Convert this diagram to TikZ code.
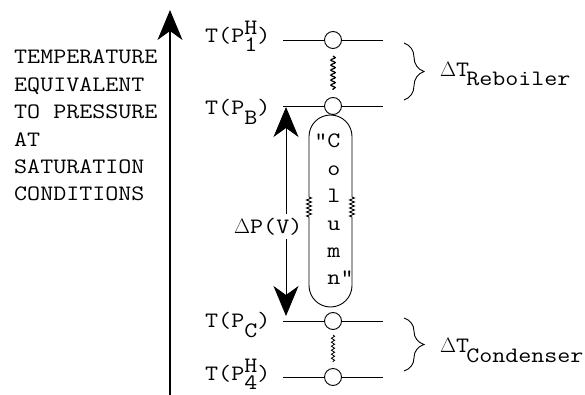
\documentclass[tikz,border=0pt]{standalone}
\usepackage{fontspec}
\setmainfont{Latin Modern Mono}[FakeStretch=1.15]
\usetikzlibrary{arrows.meta,decorations.pathmorphing,decorations.pathreplacing}

% stacked super/subscript and lowered index
\newcommand{\hiLo}[2]{\rlap{\raisebox{8pt}{#1}}\raisebox{-9pt}{#2}}
\newcommand{\lowIdx}[1]{\raisebox{-10pt}{#1}}

\begin{document}
\begin{tikzpicture}[
    x=1pt, y=-1pt,
    >={Stealth[length=30pt,width=25pt,inset=9pt]},
    txt/.style={inner sep=0pt, font=\fontsize{22}{27.4}\selectfont},
    lvl/.style={line width=0.9pt},
    ring/.style={draw, circle, line width=0.9pt, minimum size=17pt, inner sep=0pt, fill=white},
    wave/.style={decorate, decoration={snake, amplitude=2.2pt, segment length=5pt}, line width=1.2pt},
    coil/.style={decorate, decoration={zigzag, amplitude=2.5pt, segment length=4pt}},
    curly/.style={decorate, decoration={brace, amplitude=20pt}, line width=0.9pt}
]
\useasboundingbox (0,0) rectangle (585,395);

% Axis and its caption
\coordinate (axb) at (170,395);
\coordinate (axt) at (170,10);
\draw[->, line width=1.5pt] (axb) -- (axt);
\node[txt, align=left, anchor=north west] (ylab) at (14,50)
  {TEMPERATURE\\EQUIVALENT\\TO PRESSURE\\AT\\SATURATION\\CONDITIONS};

% Pressure levels
\node[ring] (h1) at (333,40) {};
\node[ring] (pb) at (333,106) {};
\node[ring] (pc) at (333,321) {};
\node[ring] (h4) at (333,377) {};

\coordinate (h1l) at (283,40);  \coordinate (h1r) at (383,40);
\coordinate (pbl) at (283,106); \coordinate (pbr) at (383,106);
\coordinate (pcl) at (283,321); \coordinate (pcr) at (383,321);
\coordinate (h4l) at (283,377); \coordinate (h4r) at (383,377);

\draw[lvl] (h1l) -- (h1) -- (h1r);
\draw[lvl] (pbl) -- (pb) -- (pbr);
\draw[lvl] (pcl) -- (pc) -- (pcr);
\draw[lvl] (h4l) -- (h4) -- (h4r);

\node[txt, anchor=base west] (th1) at (205,43) {T(P\hiLo{H}{1})};
\node[txt, anchor=base west] (tpb) at (205,115) {T(P\lowIdx{B})};
\node[txt, anchor=base west] (tpc) at (205,327) {T(P\lowIdx{C})};
\node[txt, anchor=base west] (th4) at (205,380) {T(P\hiLo{H}{4})};

% Wavy links
\coordinate (wa) at (333,56);  \coordinate (wb) at (333,90);
\coordinate (wc) at (333,335); \coordinate (wd) at (333,362);
\draw[wave] (wa) -- (wb);
\draw[wave, line width=0.8pt, decoration={amplitude=1.6pt, segment length=4pt}] (wc) -- (wd);

% Column
\draw[lvl, rounded corners=21.5pt] (309,197) -- (309,115) -- (352,115) -- (352,197);
\draw[lvl, coil] (352,197) -- (352,217);
\draw[lvl, rounded corners=21.5pt] (352,217) -- (352,307) -- (309,307) -- (309,217);
\draw[lvl, coil] (309,217) -- (309,197);
\node[txt, align=center, anchor=north] (col) at (334,134)
  {\llap{"}C\\o\\l\\u\\m\\n\rlap{"}};

% Pressure drop
\node[txt, inner sep=4pt, anchor=base west] (dp) at (230,233) {$\Delta$P(V)};
\coordinate (dpt) at (286,107);
\coordinate (dpb) at (286,316);
\draw[->, lvl] (dp.north -| dpt) -- (dpt);
\draw[->, lvl] (dp.south -| dpb) -- (dpb);

% Braces
\coordinate (rbt) at (404,43);  \coordinate (rbb) at (404,100);
\coordinate (cbt) at (404,318); \coordinate (cbb) at (404,371);
\draw[curly] (rbt) -- (rbb);
\draw[curly] (cbt) -- (cbb);
\node[txt, anchor=base west] (rlab) at (440,77) {$\Delta$T\kern-3pt\raisebox{-9pt}{Reboiler}};
\node[txt, anchor=base west] (clab) at (440,352) {$\Delta$T\kern-3pt\raisebox{-10pt}{Condenser}};

\end{tikzpicture}
\end{document}
